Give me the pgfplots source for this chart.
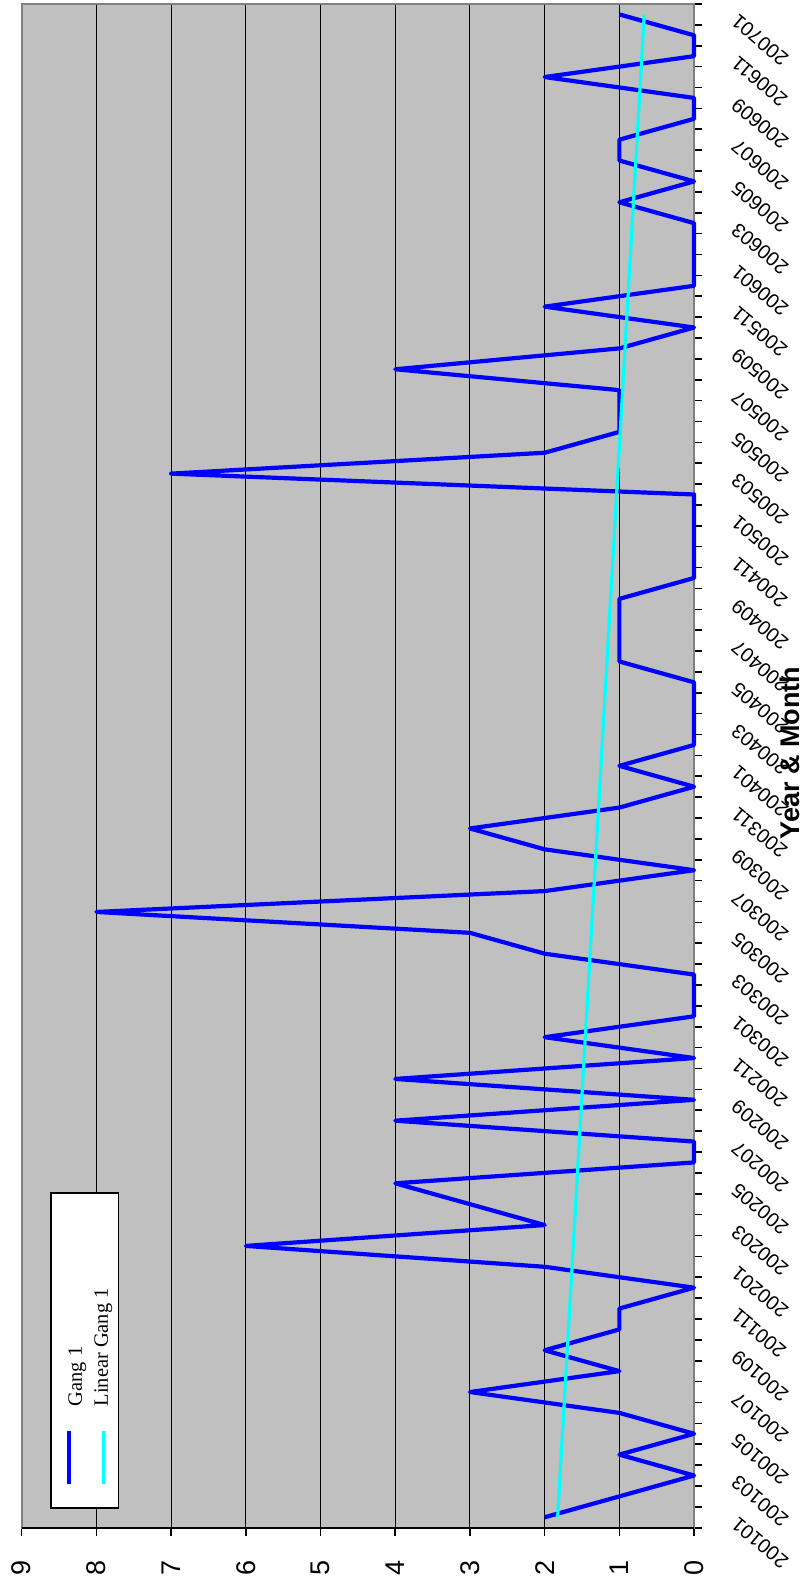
\documentclass[border=0pt]{standalone}
\usepackage{fontspec}
\setmainfont{Liberation Sans}
\newfontfamily\legendfont{Liberation Serif}
\usepackage{pgfplots}
\pgfplotsset{compat=1.18}
\definecolor{plotbg}{RGB}{192,192,192}
\definecolor{bordergray}{RGB}{128,128,128}
\definecolor{gangblue}{RGB}{0,0,255}
\definecolor{trendcyan}{RGB}{0,255,255}
\begin{document}
\begin{tikzpicture}
\begin{axis}[
  at={(0,0)}, anchor=south west,
  scale only axis, width=336.2pt, height=761.85pt,
  xmin=0, xmax=9, x dir=reverse,
  ymin=-0.5, ymax=72.5,
  xtick={0,1,...,9},
  xtick pos=left, ytick pos=right,
  yticklabel pos=right,
  tick align=outside,
  major tick length=4pt, minor tick length=4pt,
  ytick={0,2,...,72},
  yticklabels={200101,200103,200105,200107,200109,200111,
    200201,200203,200205,200207,200209,200211,
    200301,200303,200305,200307,200309,200311,
    200401,200403,200405,200407,200409,200411,
    200501,200503,200505,200507,200509,200511,
    200601,200603,200605,200607,200609,200611,
    200701},
  minor ytick={-0.5,0.5,...,72.5},
  every major y tick/.append style={draw=none},
  xmajorgrids,
  grid style={black, line width=0.5pt},
  axis background/.style={fill=plotbg},
  axis line style={draw=bordergray, line width=1pt},
  tick style={black, line width=0.8pt},
  xticklabel style={anchor=center, inner sep=0pt, yshift=-15.9pt, rotate=90, font=\fontsize{13.5}{14}\selectfont},
  yticklabel style={anchor=east, inner sep=0pt, xshift=16pt, yshift=-2pt, rotate=140, font=\fontsize{10}{11}\selectfont},
  /pgf/number format/assume math mode=true,
  clip=false,
  legend plot pos=none,
  legend columns=2,
  legend style={at={(0.0421,0.01227)}, anchor=south west,
    draw=black, fill=white, line width=0.8pt,
    inner xsep=3pt, inner ysep=0pt, column sep=3.8pt,
    nodes={inner sep=0pt},
    font=\legendfont\fontsize{10.2}{12}\selectfont},
]
\addplot[gangblue, line width=2.1pt, line join=round] coordinates {
(2,0) (1,1) (0,2) (1,3) (0,4) (1,5) (3,6) (1,7) (2,8) (1,9)
(1,10) (0,11) (2,12) (6,13) (2,14) (3,15) (4,16) (0,17) (0,18) (4,19)
(0,20) (4,21) (0,22) (2,23) (0,24) (0,25) (0,26) (2,27) (3,28) (8,29)
(2,30) (0,31) (2,32) (3,33) (1,34) (0,35) (1,36) (0,37) (0,38) (0,39)
(0,40) (1,41) (1,42) (1,43) (1,44) (0,45) (0,46) (0,47) (0,48) (0,49)
(7,50) (2,51) (1,52) (1,53) (1,54) (4,55) (1,56) (0,57) (2,58) (0,59)
(0,60) (0,61) (0,62) (1,63) (0,64) (1,65) (1,66) (0,67) (0,68) (2,69)
(0,70) (0,71) (1,72)
};
\addlegendentry{\rotatebox{90}{\makebox[156pt][l]{\vrule width 0pt height 12.5pt depth 2.3pt\hspace*{10.5pt}\textcolor{gangblue}{\rule[5.3pt]{26.5pt}{2pt}}\hspace*{12.5pt}Gang 1}}}
\addplot[trendcyan, line width=1.6pt] coordinates {(1.8264,0) (0.6668,72)};
\addlegendentry{\rotatebox{90}{\makebox[156pt][l]{\vrule width 0pt height 7pt depth 2.3pt\hspace*{10.5pt}\textcolor{trendcyan}{\rule[1.6pt]{26.5pt}{1.6pt}}\hspace*{12.5pt}Linear Gang 1}}}
\draw[black, line width=1pt] (axis description cs:0,0) -- (axis description cs:1,0);
\node[rotate=90, font=\bfseries\fontsize{13.5}{14}\selectfont]
  at ([xshift=48pt]axis description cs:1,0.5084) {Year \& Month};
\end{axis}
\pgfresetboundingbox
\path[use as bounding box] (-10.85pt,-28.65pt) rectangle (390.65pt,763.85pt);
\end{tikzpicture}
\end{document}
